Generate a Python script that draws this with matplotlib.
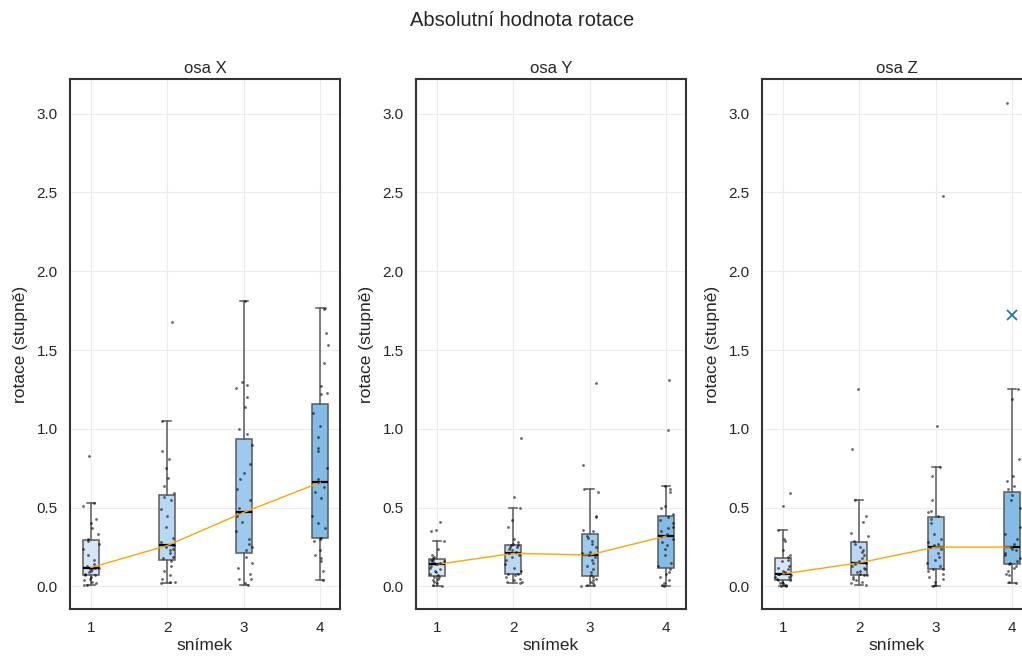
import numpy as np
import matplotlib
matplotlib.use("Agg")
import matplotlib.pyplot as plt

plt.rcParams['font.family'] = ['Liberation Sans', 'DejaVu Sans']

# snímky 1..4
frames = [1, 2, 3, 4]
axis_names = ["osa X", "osa Y", "osa Z"]

# absolutní hodnoty rotace (stupně), odhad z obrázku
rot_x = [
    [0.01, 0.01, 0.02, 0.03, 0.04, 0.05, 0.06, 0.07, 0.07, 0.08, 0.09, 0.10, 0.11, 0.11, 0.12, 0.12,
     0.13, 0.14, 0.17, 0.20, 0.24, 0.27, 0.29, 0.30, 0.33, 0.37, 0.40, 0.43, 0.51, 0.53, 0.83],
    [0.02, 0.03, 0.03, 0.05, 0.07, 0.10, 0.13, 0.16, 0.18, 0.19, 0.21, 0.23, 0.24, 0.25, 0.26, 0.26,
     0.28, 0.31, 0.38, 0.45, 0.49, 0.55, 0.57, 0.59, 0.64, 0.69, 0.75, 0.81, 0.86, 1.05, 1.68],
    [0.01, 0.02, 0.05, 0.05, 0.08, 0.12, 0.15, 0.19, 0.23, 0.25, 0.27, 0.30, 0.35, 0.41, 0.45, 0.47,
     0.50, 0.55, 0.62, 0.68, 0.72, 0.78, 0.90, 0.97, 1.00, 1.14, 1.20, 1.26, 1.28, 1.30, 1.81],
    [0.04, 0.10, 0.16, 0.18, 0.20, 0.23, 0.29, 0.30, 0.31, 0.37, 0.40, 0.45, 0.56, 0.60, 0.63, 0.66,
     0.68, 0.75, 0.86, 0.88, 0.95, 1.02, 1.10, 1.22, 1.23, 1.27, 1.42, 1.53, 1.61, 1.76, 1.77],
]
rot_y = [
    [0.00, 0.01, 0.02, 0.03, 0.04, 0.05, 0.06, 0.06, 0.07, 0.08, 0.09, 0.10, 0.11, 0.12, 0.13, 0.14,
     0.14, 0.15, 0.15, 0.16, 0.16, 0.17, 0.17, 0.18, 0.19, 0.20, 0.24, 0.29, 0.35, 0.36, 0.41],
    [0.02, 0.03, 0.03, 0.04, 0.05, 0.06, 0.07, 0.08, 0.08, 0.10, 0.12, 0.14, 0.17, 0.19, 0.20, 0.21,
     0.22, 0.23, 0.24, 0.25, 0.25, 0.26, 0.26, 0.27, 0.28, 0.30, 0.38, 0.42, 0.50, 0.57, 0.94],
    [0.00, 0.01, 0.01, 0.02, 0.03, 0.04, 0.05, 0.06, 0.07, 0.09, 0.11, 0.13, 0.15, 0.17, 0.19, 0.20,
     0.21, 0.22, 0.25, 0.27, 0.29, 0.31, 0.32, 0.35, 0.36, 0.44, 0.45, 0.60, 0.62, 0.77, 1.29],
    [0.00, 0.01, 0.02, 0.04, 0.06, 0.08, 0.09, 0.11, 0.13, 0.15, 0.20, 0.24, 0.26, 0.28, 0.30, 0.32,
     0.33, 0.35, 0.37, 0.38, 0.40, 0.42, 0.44, 0.46, 0.50, 0.51, 0.60, 0.62, 0.64, 0.99, 1.31],
]
rot_z = [
    [0.00, 0.00, 0.01, 0.01, 0.02, 0.02, 0.03, 0.04, 0.04, 0.05, 0.06, 0.06, 0.07, 0.08, 0.08, 0.08,
     0.09, 0.10, 0.11, 0.12, 0.13, 0.16, 0.17, 0.19, 0.20, 0.23, 0.29, 0.30, 0.36, 0.51, 0.59],
    [0.01, 0.02, 0.03, 0.04, 0.05, 0.06, 0.07, 0.07, 0.08, 0.09, 0.10, 0.11, 0.12, 0.13, 0.14, 0.15,
     0.16, 0.18, 0.20, 0.22, 0.23, 0.25, 0.27, 0.29, 0.32, 0.34, 0.41, 0.45, 0.55, 0.87, 1.25],
    [0.00, 0.01, 0.03, 0.05, 0.06, 0.08, 0.10, 0.11, 0.11, 0.13, 0.15, 0.17, 0.19, 0.21, 0.24, 0.25,
     0.26, 0.27, 0.28, 0.30, 0.33, 0.40, 0.43, 0.45, 0.47, 0.48, 0.55, 0.70, 0.76, 1.02, 2.48],
    [0.02, 0.03, 0.07, 0.08, 0.10, 0.12, 0.13, 0.14, 0.15, 0.16, 0.18, 0.20, 0.21, 0.23, 0.24, 0.25,
     0.27, 0.30, 0.33, 0.38, 0.50, 0.55, 0.58, 0.62, 0.64, 0.67, 0.70, 0.81, 1.19, 1.25, 3.07],
]
all_data = [rot_x, rot_y, rot_z]

# zvláštní bod (modrý křížek) v ose Z
special_frame = 4
special_value = 1.72

box_colors = ['#d4e6f7', '#b9d8f3', '#9ecaee', '#82bce7']

W, H = 1022, 664
fig = plt.figure(figsize=(W / 100, H / 100), dpi=100)
fig.suptitle("Absolutní hodnota rotace", x=522 / W, y=1 - 21 / H, va='center',
             fontsize=14.5, color='#262626')

lefts = [70, 416, 762]
rng = np.random.default_rng(3)

for k, (name, data) in enumerate(zip(axis_names, all_data)):
    ax = fig.add_axes([lefts[k] / W, 1 - 609 / H, 270 / W, 530 / H])
    bp = ax.boxplot(data, positions=frames, widths=0.21, patch_artist=True,
                    showfliers=False, zorder=2,
                    boxprops=dict(edgecolor='#5a5a5a', linewidth=1.1),
                    whiskerprops=dict(color='#5a5a5a', linewidth=1.1),
                    capprops=dict(color='#5a5a5a', linewidth=1.1),
                    medianprops=dict(color='black', linewidth=1.6))
    for patch, c in zip(bp['boxes'], box_colors):
        patch.set_facecolor(c)

    # body s rozptylem po ose x
    for f, vals in zip(frames, data):
        jit = rng.uniform(-0.11, 0.11, len(vals))
        ax.scatter(f + jit, vals, s=4, color='black', alpha=0.6, linewidths=0, zorder=4)

    medians = [np.median(v) for v in data]
    ax.plot(frames, medians, color='orange', linewidth=1, zorder=3)

    if k == 2:
        ax.plot([special_frame], [special_value], marker='x', color='#1f77b4',
                markersize=7, mew=1.3, linestyle='none', zorder=5)

    ax.set_xlim(0.725, 4.26)
    ax.set_ylim(-0.143, 3.22)
    ax.set_xticks(frames)
    ax.set_xticklabels([str(f) for f in frames])
    ax.set_yticks(np.arange(0, 3.01, 0.5))
    ax.grid(True, color='#ececec', linewidth=0.8, zorder=0)
    ax.set_axisbelow(True)
    ax.tick_params(length=0, pad=9, labelsize=11, colors='#262626')
    for s in ax.spines.values():
        s.set_color('#333333')
        s.set_linewidth(1.5)
    ax.set_title(name, fontsize=12, color='#262626', pad=4)
    ax.set_xlabel("snímek", fontsize=12.5, color='#262626', labelpad=2)
    ax.set_ylabel("rotace (stupně)", fontsize=12.5, color='#262626', labelpad=6)

fig.savefig("out.png", dpi=100)
